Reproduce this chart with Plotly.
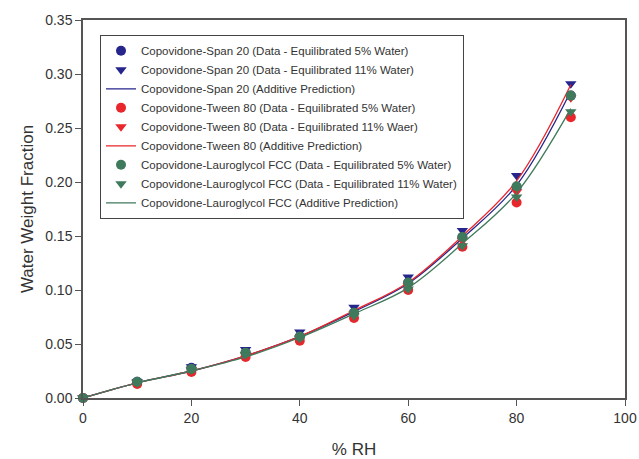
import plotly.graph_objects as go

rh = [0, 10, 20, 30, 40, 50, 60, 70, 80, 90]

span_5 = [0, 0.015, 0.028, 0.042, 0.057, 0.079, 0.107, 0.149, 0.195, 0.280]
span_11 = [0, 0.015, 0.029, 0.045, 0.061, 0.084, 0.112, 0.155, 0.206, 0.291]
span_pred = [0, 0.014, 0.025, 0.039, 0.057, 0.080, 0.106, 0.148, 0.197, 0.284]

tween_5 = [0, 0.013, 0.024, 0.038, 0.053, 0.074, 0.100, 0.140, 0.181, 0.260]
tween_11 = [0, 0.014, 0.026, 0.040, 0.056, 0.078, 0.104, 0.146, 0.191, 0.278]
tween_pred = [0, 0.014, 0.025, 0.039, 0.057, 0.081, 0.107, 0.150, 0.201, 0.290]

laur_5 = [0, 0.015, 0.027, 0.042, 0.057, 0.079, 0.107, 0.149, 0.196, 0.280]
laur_11 = [0, 0.014, 0.026, 0.040, 0.055, 0.076, 0.101, 0.141, 0.186, 0.265]
laur_pred = [0, 0.014, 0.025, 0.038, 0.056, 0.078, 0.102, 0.143, 0.190, 0.268]

BLUE = "#25258c"
RED = "#e8262b"
GREEN = "#3f7a5c"

series = [
    ("Copovidone-Span 20 (Data - Equilibrated 5% Water)", span_5, BLUE, "circle"),
    ("Copovidone-Span 20 (Data - Equilibrated 11% Water)", span_11, BLUE, "triangle-down"),
    ("Copovidone-Span 20 (Additive Prediction)", span_pred, BLUE, None),
    ("Copovidone-Tween 80 (Data - Equilibrated 5% Water)", tween_5, RED, "circle"),
    ("Copovidone-Tween 80 (Data - Equilibrated 11% Waer)", tween_11, RED, "triangle-down"),
    ("Copovidone-Tween 80 (Additive Prediction)", tween_pred, RED, None),
    ("Copovidone-Lauroglycol FCC (Data - Equilibrated 5% Water)", laur_5, GREEN, "circle"),
    ("Copovidone-Lauroglycol FCC (Data - Equilibrated 11% Water)", laur_11, GREEN, "triangle-down"),
    ("Copovidone-Lauroglycol FCC (Additive Prediction)", laur_pred, GREEN, None),
]

fig = go.Figure()
for name, vals, col, sym in series:
    if sym is None:
        fig.add_trace(go.Scatter(x=rh, y=vals, name=name, mode="lines",
                                 line=dict(color=col, width=1.3, shape="spline"),
                                 cliponaxis=False))
    else:
        fig.add_trace(go.Scatter(x=rh, y=vals, name=name, mode="markers",
                                 marker=dict(color=col, symbol=sym, size=10,
                                             line=dict(width=0)),
                                 cliponaxis=False))

axis_common = dict(showline=True, linecolor="#555555", linewidth=1.5, mirror=True,
                   ticks="outside", ticklen=6, tickwidth=1.2, tickcolor="#555555",
                   showgrid=False, zeroline=False, automargin=False,
                   tickfont=dict(family="Liberation Sans, Arial", size=14, color="#333333"))

fig.update_layout(
    width=639, height=459,
    margin=dict(l=83, r=14, t=20, b=61),
    paper_bgcolor="white", plot_bgcolor="white",
    font=dict(family="Liberation Sans, Arial", color="#333333"),
    xaxis=dict(range=[0, 100], tickvals=[0, 20, 40, 60, 80, 100],
               title=dict(text="% RH", font=dict(size=17, color="#333333"), standoff=19),
               **axis_common),
    yaxis=dict(range=[0, 0.35], tickvals=[0, 0.05, 0.10, 0.15, 0.20, 0.25, 0.30, 0.35],
               tickformat=".2f",
               title=dict(text="Water Weight Fraction", font=dict(size=17, color="#333333"), standoff=7),
               **axis_common),
    legend=dict(x=0.031, y=0.96, xanchor="left", yanchor="top",
                bordercolor="#444444", borderwidth=1.2, bgcolor="white",
                font=dict(size=11.5, color="#333333"), tracegroupgap=0,
                itemwidth=30),
    showlegend=True,
)

fig.write_html("out.html", config={"displayModeBar": False},
               post_script="document.body.style.margin='0';")
